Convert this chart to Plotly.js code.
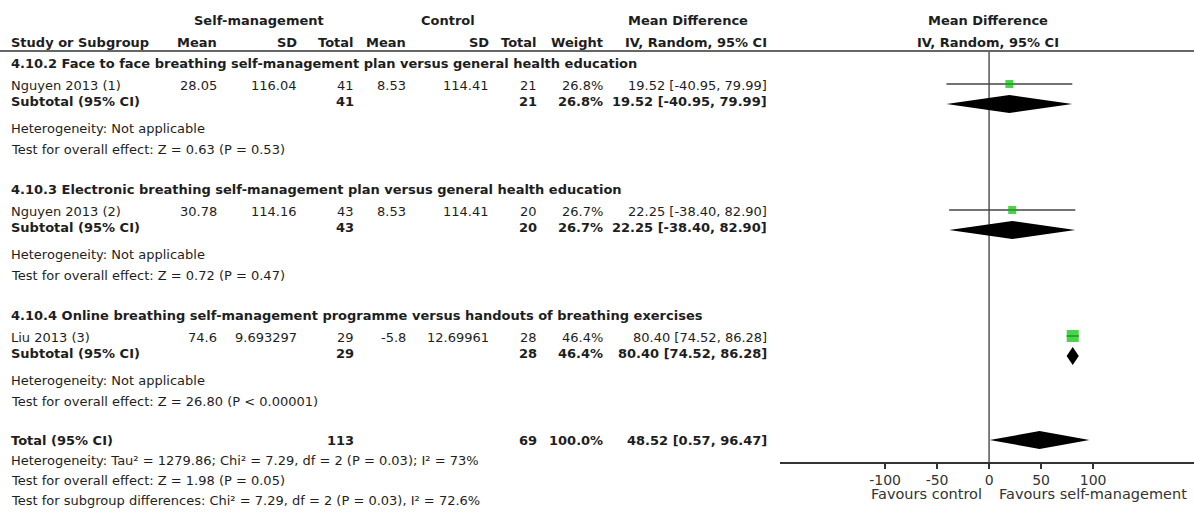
<!DOCTYPE html>
<html><head><meta charset="utf-8">
<script src="https://cdn.plot.ly/plotly-3.0.1.min.js"></script>
<style>html,body{margin:0;padding:0;background:#fff}#chart{width:1194px;height:512px}</style>
</head><body><div id="chart"></div>
<script>
// ---------- data ----------
const groups = [
  "4.10.2 Face to face breathing self-management plan versus general health education",
  "4.10.3 Electronic breathing self-management plan versus general health education",
  "4.10.4 Online breathing self-management programme versus handouts of breathing exercises"
];
const studies = ["Nguyen 2013 (1)", "Nguyen 2013 (2)", "Liu 2013 (3)"];
const smMean  = [28.05, 30.78, 74.6];
const smSD    = [116.04, 114.16, 9.693297];
const smTotal = [41, 43, 29];
const cMean   = [8.53, 8.53, -5.8];
const cSD     = [114.41, 114.41, 12.69961];
const cTotal  = [21, 20, 28];
const weights = [26.8, 26.7, 46.4];
const md      = [19.52, 22.25, 80.40];
const mdLo    = [-40.95, -38.40, 74.52];
const mdHi    = [79.99, 82.90, 86.28];
const hetTexts  = ["Heterogeneity: Not applicable", "Heterogeneity: Not applicable", "Heterogeneity: Not applicable"];
const testTexts = ["Test for overall effect: Z = 0.63 (P = 0.53)", "Test for overall effect: Z = 0.72 (P = 0.47)", "Test for overall effect: Z = 26.80 (P < 0.00001)"];
const total = {smTotal: 113, cTotal: 69, weight: 100.0, md: 48.52, lo: 0.57, hi: 96.47};
const totalTexts = [
  "Heterogeneity: Tau\u00b2 = 1279.86; Chi\u00b2 = 7.29, df = 2 (P = 0.03); I\u00b2 = 73%",
  "Test for overall effect: Z = 1.98 (P = 0.05)",
  "Test for subgroup differences: Chi\u00b2 = 7.29, df = 2 (P = 0.03), I\u00b2 = 72.6%"
];
const xTicks = [-100, -50, 0, 50, 100];
const favours = ["Favours control", "Favours self-management"];

// ---------- layout helpers ----------
const W = 1194, H = 512;
const FONT = "DejaVu Sans, Verdana, sans-serif";
const FS = 13;
const TXT = "#1e1e1e";
const groupY = [63, 189, 315];
const colRight = {smMean: 218, smSD: 298, smTotal: 355, cMean: 407, cSD: 490, cTotal: 538, weight: 604, ci: 768};
const ann = [];
function t(text, px, py, anchor, bold, extra) {
  ann.push(Object.assign({
    text: bold ? "<b>" + text + "</b>" : text,
    x: px / W, xref: "paper", y: py, yref: "y",
    xanchor: anchor, yanchor: "middle", showarrow: false, borderpad: 0,
    font: {family: FONT, size: FS, color: TXT}
  }, extra || {}));
}
const ci = (m, l, h) => m.toFixed(2) + " [" + l.toFixed(2) + ", " + h.toFixed(2) + "]";

// headers
t("Self-management", 259, 20, "center", true);
t("Control", 448, 20, "center", true);
t("Mean Difference", 688, 20, "center", true);
t("Study or Subgroup", 10, 42, "left", true);
t("Mean", colRight.smMean, 42, "right", true);
t("SD", colRight.smSD, 42, "right", true);
t("Total", colRight.smTotal, 42, "right", true);
t("Mean", colRight.cMean, 42, "right", true);
t("SD", colRight.cSD, 42, "right", true);
t("Total", colRight.cTotal, 42, "right", true);
t("Weight", colRight.weight, 42, "right", true);
t("IV, Random, 95% CI", colRight.ci, 42, "right", true);

const traces = [];
const diamond = (m, l, h, yc, hh) => ({
  x: [l, m, h, m, l], y: [yc, yc - hh, yc, yc + hh, yc],
  type: "scatter", mode: "lines", fill: "toself", fillcolor: "#000",
  line: {width: 0, color: "#000"}, hoverinfo: "skip", showlegend: false
});

const sqY = [], sqSize = [];
for (let g = 0; g < groups.length; g++) {
  const y0 = groupY[g];
  const ys = y0 + 22, yb = y0 + 38;
  t(groups[g], 10, y0, "left", true);
  t(studies[g], 10, ys, "left", false);
  t(String(smMean[g]), colRight.smMean, ys, "right");
  t(String(smSD[g]), colRight.smSD, ys, "right");
  t(String(smTotal[g]), colRight.smTotal, ys, "right");
  t(String(cMean[g]), colRight.cMean, ys, "right");
  t(String(cSD[g]), colRight.cSD, ys, "right");
  t(String(cTotal[g]), colRight.cTotal, ys, "right");
  t(weights[g].toFixed(1) + "%", colRight.weight, ys, "right");
  t(ci(md[g], mdLo[g], mdHi[g]), colRight.ci, ys, "right");
  t("Subtotal (95% CI)", 10, yb, "left", true);
  t(String(smTotal[g]), colRight.smTotal, yb, "right", true);
  t(String(cTotal[g]), colRight.cTotal, yb, "right", true);
  t(weights[g].toFixed(1) + "%", colRight.weight, yb, "right", true);
  t(ci(md[g], mdLo[g], mdHi[g]), colRight.ci, yb, "right", true);
  t(hetTexts[g], 10, y0 + 65, "left");
  t(testTexts[g], 10, y0 + 86, "left");
  sqY.push(ys - 1);
  sqSize.push(Math.round(3 + 0.19 * weights[g]));
  traces.push(diamond(md[g], mdLo[g], mdHi[g], yb + 3, 9));
}
// total
t("Total (95% CI)", 10, 440, "left", true);
t(String(total.smTotal), colRight.smTotal, 440, "right", true);
t(String(total.cTotal), colRight.cTotal, 440, "right", true);
t(total.weight.toFixed(1) + "%", colRight.weight, 440, "right", true);
t(ci(total.md, total.lo, total.hi), colRight.ci, 440, "right", true);
totalTexts.forEach((s, i) => t(s, 10, 460 + 20 * i, "left"));
traces.push(diamond(total.md, total.lo, total.hi, 440, 9));

// plot header
t("Mean Difference", 988, 20, "center", true);
t("IV, Random, 95% CI", 988, 42, "center", true);
// favours
ann.push({text: favours[0], x: 0, xref: "x", y: 494, yref: "y", xanchor: "right", yanchor: "middle", xshift: -5, showarrow: false, font: {family: FONT, size: 14.5, color: "#333"}});
ann.push({text: favours[1], x: 0, xref: "x", y: 494, yref: "y", xanchor: "left", yanchor: "middle", xshift: 8, showarrow: false, font: {family: FONT, size: 14.5, color: "#333"}});

// study CI lines (drawn beneath squares)
const ciX = [], ciY = [];
md.forEach((m, i) => { ciX.push(mdLo[i], mdHi[i], null); ciY.push(sqY[i], sqY[i], null); });
traces.push({
  x: ciX, y: ciY, type: "scatter", mode: "lines",
  line: {color: "#444", width: 1.5}, hoverinfo: "skip", showlegend: false
});
// study squares
traces.push({
  x: md, y: sqY, type: "scatter", mode: "markers",
  marker: {symbol: "square", size: sqSize, color: "#00c000", line: {width: 0}},
  hoverinfo: "skip", showlegend: false
});

const layout = {
  width: W, height: H, margin: {l: 0, r: 0, t: 0, b: 0},
  paper_bgcolor: "#fff", plot_bgcolor: "rgba(0,0,0,0)",
  showlegend: false,
  xaxis: {domain: [780 / W, 1], range: [-201, 197], anchor: "free", position: 1 - 462 / H,
    tickvals: xTicks, ticktext: xTicks.map(String), ticks: "outside", ticklen: 5, tickwidth: 1.5, tickcolor: "#333",
    showline: true, linecolor: "#333", linewidth: 1.5, showgrid: false, zeroline: false,
    tickfont: {family: FONT, size: 14, color: "#333"}, fixedrange: true},
  yaxis: {domain: [0, 1], range: [H, 0], visible: false, fixedrange: true},
  shapes: [
    {type: "line", xref: "paper", yref: "y", x0: 0, x1: 1, y0: 51, y1: 51, line: {color: "#333", width: 1.5}},
    {type: "line", xref: "x", yref: "y", x0: 0, x1: 0, y0: 52, y1: 462, line: {color: "#555", width: 1.5}, layer: "below"}
  ],
  annotations: ann
};
Plotly.newPlot("chart", traces, layout, {staticPlot: true, displayModeBar: false});
</script></body></html>
